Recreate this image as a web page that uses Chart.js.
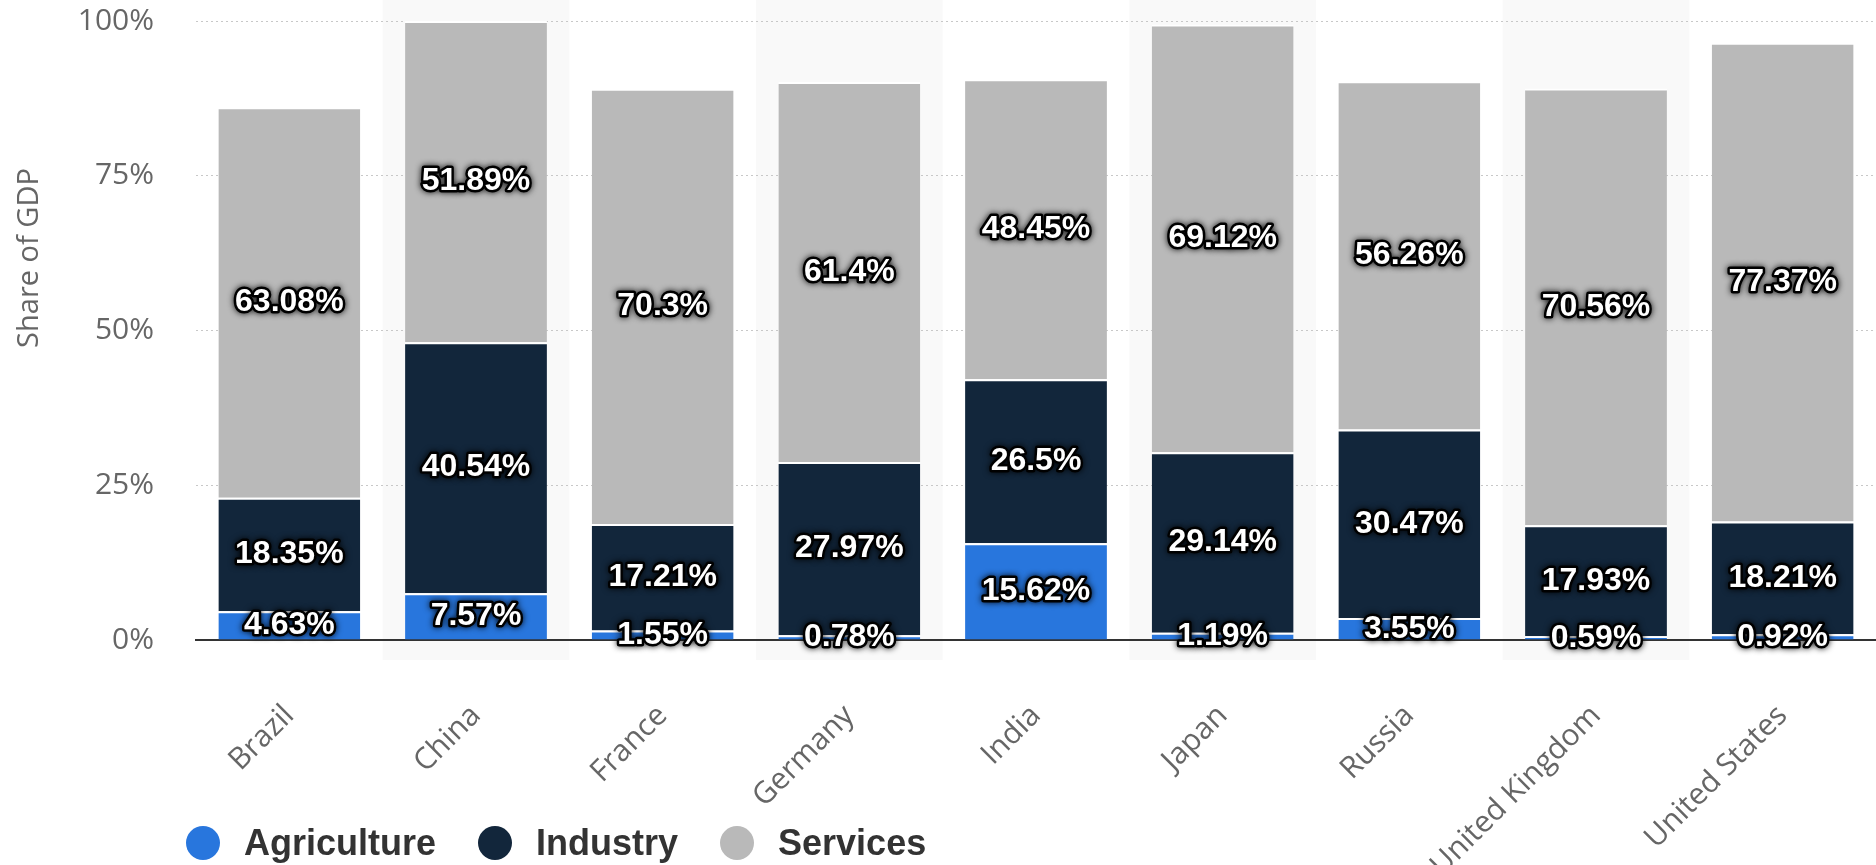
<!DOCTYPE html>
<html>
<head>
<meta charset="utf-8">
<script src="https://cdn.jsdelivr.net/npm/chart.js@4.4.0/dist/chart.umd.min.js"></script>
<style>
  body { margin: 0; background: #fff; }
  #wrap { position: relative; width: 1876px; height: 865px; }
  #legend { position: absolute; left: 186px; top: 822px; height: 42px; display: flex; align-items: center;
            font: bold 36px "Liberation Sans Narrow", "Liberation Sans", sans-serif; color: #333; }
  .item { display: flex; align-items: center; margin-right: 42px; }
  .dot { width: 34px; height: 34px; border-radius: 50%; margin-right: 24px; }
</style>
</head>
<body>
<div id="wrap">
  <canvas id="sectorChart"></canvas>
  <div id="legend"></div>
</div>
<script>
var countries = ['Brazil', 'China', 'France', 'Germany', 'India', 'Japan', 'Russia', 'United Kingdom', 'United States'];
var agriculture = [4.63, 7.57, 1.55, 0.78, 15.62, 1.19, 3.55, 0.59, 0.92];
var industry = [18.35, 40.54, 17.21, 27.97, 26.5, 29.14, 30.47, 17.93, 18.21];
var services = [63.08, 51.89, 70.3, 61.4, 48.45, 69.12, 56.26, 70.56, 77.37];
var yTicks = [0, 25, 50, 75, 100];

var seriesNames = ['Agriculture', 'Industry', 'Services'];
var seriesColors = ['#2876dd', '#12263b', '#b9b9b9'];

// light stripes behind every other country
var stripes = {
    id: 'stripes',
    beforeDraw: function(chart) {
        var ctx = chart.ctx, x = chart.scales.x, area = chart.chartArea;
        var w = (area.right - area.left) / countries.length;
        ctx.save();
        ctx.fillStyle = '#f9f9f9';
        countries.forEach(function(c, i) {
            if (i % 2 === 1) {
                var cx = x.getPixelForValue(i);
                ctx.fillRect(cx - w / 2, 0, w, area.bottom + 20);
            }
        });
        ctx.restore();
    }
};

// value labels in the middle of each segment
var segmentLabels = {
    id: 'segmentLabels',
    afterDatasetsDraw: function(chart) {
        var ctx = chart.ctx;
        ctx.save();
        ctx.font = 'bold 32px "Liberation Sans", Arial, sans-serif';
        ctx.textAlign = 'center';
        ctx.textBaseline = 'middle';
        ctx.lineJoin = 'round';
        chart.data.datasets.forEach(function(ds, i) {
            chart.getDatasetMeta(i).data.forEach(function(bar, j) {
                var text = ds.data[j] + '%';
                var y = (bar.y + bar.base) / 2;
                ctx.shadowColor = 'rgba(0,0,0,0.9)';
                ctx.shadowBlur = 6;
                ctx.lineWidth = 5;
                ctx.strokeStyle = '#000';
                ctx.strokeText(text, bar.x, y);
                ctx.shadowBlur = 0;
                ctx.fillStyle = '#fff';
                ctx.fillText(text, bar.x, y);
            });
        });
        ctx.restore();
    }
};

// y axis title sits higher than centre in the original
var yTitle = {
    id: 'yTitle',
    afterDraw: function(chart) {
        var ctx = chart.ctx;
        ctx.save();
        ctx.translate(30, 258);
        ctx.rotate(-Math.PI / 2);
        ctx.font = '29px "Open Sans", sans-serif';
        ctx.fillStyle = '#666';
        ctx.textAlign = 'center';
        ctx.textBaseline = 'middle';
        ctx.fillText('Share of GDP', 0, 0);
        ctx.restore();
    }
};

var datasets = [agriculture, industry, services].map(function(values, i) {
    return {
        label: seriesNames[i],
        data: values,
        backgroundColor: seriesColors[i],
        borderColor: '#fff',
        borderWidth: { top: 2, right: 0, bottom: 0, left: 0 },
        borderSkipped: false,
        barPercentage: 0.76,
        categoryPercentage: 1
    };
});

var ctx = document.getElementById('sectorChart').getContext('2d');
var sectorChart = new Chart(ctx, {
    type: 'bar',
    data: { labels: countries, datasets: datasets },
    options: {
        responsive: true,
        maintainAspectRatio: false,
        animation: false,
        layout: { padding: { top: 21, left: 0, right: 0, bottom: 0 } },
        plugins: {
            legend: { display: false },
            tooltip: { enabled: false }
        },
        scales: {
            x: {
                stacked: true,
                grid: { display: false },
                border: { display: true, color: '#333', width: 2 },
                ticks: {
                    color: '#666',
                    font: { family: 'Open Sans', size: 30 },
                    minRotation: 45,
                    maxRotation: 45,
                    autoSkip: false,
                    padding: 50
                },
                afterFit: function(scale) { scale.height = 225; }
            },
            y: {
                stacked: true,
                min: 0,
                max: 100,
                afterBuildTicks: function(scale) {
                    scale.ticks = yTicks.map(function(v) { return { value: v }; });
                },
                grid: { color: '#c8c8c8', drawTicks: false, lineWidth: 1 },
                border: { display: false, dash: [2, 3] },
                ticks: {
                    color: '#666',
                    font: { family: 'Open Sans', size: 30 },
                    padding: 42,
                    callback: function(v) { return v + '%'; }
                },
                afterFit: function(scale) {
                    scale.width = 196;
                    scale.paddingTop = 0;
                    scale.paddingBottom = 0;
                }
            }
        }
    },
    plugins: [stripes, segmentLabels, yTitle]
});

// legend as plain html, left aligned like the original
var legend = document.getElementById('legend');
seriesNames.forEach(function(name, i) {
    var item = document.createElement('div');
    item.className = 'item';
    item.innerHTML = '<span class="dot" style="background:' + seriesColors[i] + '"></span>' + name;
    legend.appendChild(item);
});
</script>
</body>
</html>
